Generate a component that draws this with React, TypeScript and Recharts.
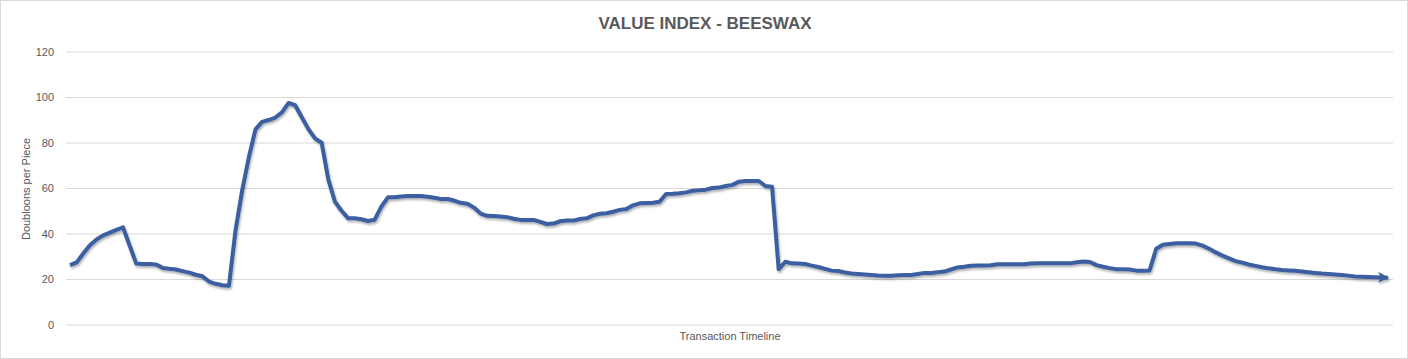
import { LineChart, Line, XAxis, YAxis, CartesianGrid } from 'recharts';

// price of beeswax per piece, one reading per transaction
const doubloonsPerPiece = [
  26.3, 27.5, 31.4, 35.1, 37.6, 39.4, 40.6, 41.8, 42.9, 35.0,
  27.0, 26.8, 26.8, 26.6, 25.1, 24.7, 24.4, 23.7, 23.0, 22.1,
  21.4, 19.1, 18.1, 17.5, 17.3, 41.8, 59.3, 73.7, 86.0, 89.3,
  90.1, 91.2, 93.5, 97.6, 96.6, 91.3, 86.1, 82.0, 80.1, 64.0,
  54.2, 50.2, 46.9, 46.9, 46.5, 45.7, 46.3, 52.0, 56.1, 56.2,
  56.5, 56.7, 56.7, 56.7, 56.4, 55.9, 55.4, 55.4, 54.7, 53.7,
  53.3, 51.6, 49.0, 48.0, 47.9, 47.7, 47.4, 46.7, 46.2, 46.2,
  46.2, 45.3, 44.4, 44.6, 45.6, 45.9, 45.9, 46.6, 46.9, 48.2,
  48.9, 49.1, 49.8, 50.6, 51.0, 52.6, 53.5, 53.6, 53.7, 54.2,
  57.6, 57.7, 57.9, 58.3, 59.0, 59.2, 59.5, 60.2, 60.4, 61.1,
  61.6, 63.0, 63.3, 63.3, 63.3, 61.1, 60.8, 24.6, 27.8, 27.1,
  27.0, 26.8, 26.1, 25.5, 24.7, 23.9, 23.7, 23.1, 22.6, 22.4,
  22.2, 22.0, 21.8, 21.7, 21.7, 21.9, 22.0, 22.0, 22.4, 22.9,
  22.9, 23.2, 23.5, 24.4, 25.3, 25.6, 26.0, 26.2, 26.2, 26.3,
  26.7, 26.7, 26.7, 26.7, 26.7, 27.0, 27.1, 27.1, 27.1, 27.1,
  27.1, 27.1, 27.6, 27.9, 27.7, 26.3, 25.6, 25.0, 24.5, 24.5,
  24.4, 23.9, 23.9, 24.0, 33.5, 35.3, 35.6, 35.9, 35.9, 35.9,
  35.8, 34.9, 33.5, 31.9, 30.5, 29.3, 28.1, 27.4, 26.6, 26.0,
  25.4, 24.9, 24.5, 24.2, 24.0, 23.8, 23.5, 23.2, 22.9, 22.6,
  22.4, 22.2, 22.0, 21.7, 21.3, 21.2, 21.1, 21.0, 20.9, 20.8,
];

const yTicks = [0, 20, 40, 60, 80, 100, 120];

const chartTitle = 'VALUE INDEX - BEESWAX';
const xTitle = 'Transaction Timeline';
const yTitle = 'Doubloons per Piece';

const data = doubloonsPerPiece.map((v, i) => ({ tx: i + 1, price: v }));

const textColor = '#595959';
const font = '"Liberation Sans", Arial, sans-serif';

export default function App() {
  return (
    <div
      style={{
        position: 'absolute',
        top: 0,
        left: 0,
        width: 1408,
        height: 359,
        boxSizing: 'border-box',
        border: '1px solid #d9d9d9',
        background: '#fff',
        fontFamily: font,
      }}
    >
      <svg width="0" height="0" style={{ position: 'absolute' }}>
        <defs>
          <marker
            id="arrowHead"
            viewBox="0 0 10 10"
            refX="9"
            refY="5"
            markerUnits="userSpaceOnUse"
            markerWidth="11"
            markerHeight="11"
            orient="auto"
          >
            <path d="M0,0 L10,5 L0,10 L2.5,5 z" fill="#3b5fa0" />
          </marker>
          <filter id="lineShadow" x="-5%" y="-20%" width="110%" height="150%">
            <feDropShadow dx="1" dy="2" stdDeviation="1.2" floodColor="#000" floodOpacity="0.3" />
          </filter>
        </defs>
      </svg>

      <div
        style={{
          position: 'absolute',
          top: 13,
          left: 0,
          width: 1408,
          textAlign: 'center',
          fontSize: 17,
          fontWeight: 'bold',
          color: textColor,
          lineHeight: '20px',
        }}
      >
        {chartTitle}
      </div>

      <div style={{ position: 'absolute', top: -1, left: -1 }}>
        <LineChart width={1408} height={359} data={data} margin={{ top: 52, right: 15, bottom: 34, left: 0 }}>
          <CartesianGrid vertical={false} stroke="#d9d9d9" />
          <XAxis dataKey="tx" hide padding={{ left: 4, right: 5 }} />
          <YAxis
            domain={[0, 120]}
            ticks={yTicks}
            width={66}
            axisLine={false}
            tickLine={false}
            tickMargin={6}
            tick={{ fill: textColor, fontSize: 11, fontFamily: font }}
          />
          <Line
            type="linear"
            dataKey="price"
            stroke="#3b5fa0"
            strokeWidth={4}
            strokeLinejoin="round"
            dot={false}
            activeDot={false}
            markerEnd="url(#arrowHead)"
            filter="url(#lineShadow)"
            isAnimationActive={false}
          />
        </LineChart>
      </div>

      <div
        style={{
          position: 'absolute',
          top: 328,
          left: 0,
          width: 1458,
          textAlign: 'center',
          fontSize: 11,
          color: textColor,
          lineHeight: '14px',
        }}
      >
        {xTitle}
      </div>

      <div
        style={{
          position: 'absolute',
          top: 181,
          left: -35,
          width: 120,
          textAlign: 'center',
          fontSize: 11,
          color: textColor,
          lineHeight: '14px',
          transform: 'rotate(-90deg)',
        }}
      >
        {yTitle}
      </div>
    </div>
  );
}
